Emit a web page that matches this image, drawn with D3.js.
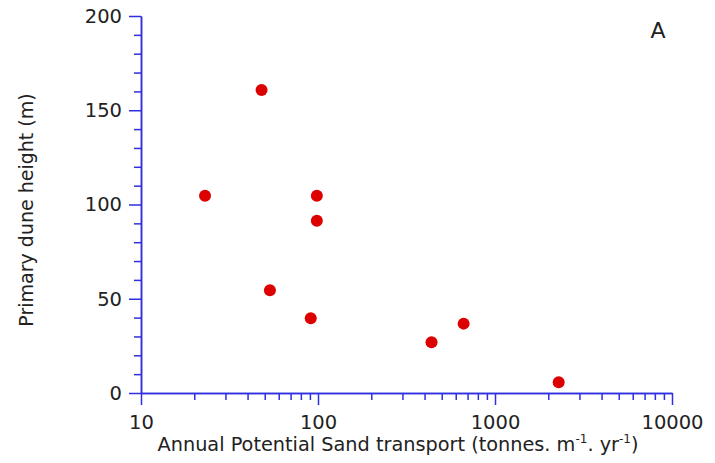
<!DOCTYPE html>
<html>
<head>
<meta charset="utf-8">
<script src="https://cdn.jsdelivr.net/npm/d3@7"></script>
<style>
  body { margin: 0; background: #fff; }
  text { font-family: "DejaVu Sans", sans-serif; fill: #222; }
</style>
</head>
<body>
<svg width="715" height="463"></svg>
<script>
// sand transport (tonnes m-1 yr-1) vs primary dune height (m)
var transport = [23, 48, 53.5, 91, 98.5, 98.5, 438, 665, 2290];
var height = [104.7, 160.7, 54.5, 39.6, 104.7, 91.4, 26.9, 36.8, 5.7];
var xTicks = [10, 100, 1000, 10000];
var yTicks = [0, 50, 100, 150, 200];

var axisCol = "#2f2fe0", dotCol = "#dd0000";

var svg = d3.select("svg");
var x = d3.scaleLog().domain([10, 10000]).range([141, 672]);
var y = d3.scaleLinear().domain([0, 200]).range([393, 16]);

// minor ticks
var xMinor = [];
for (var p = 10; p < 10000; p *= 10)
  for (var k = 2; k <= 9; k++) xMinor.push(p * k);
var yMinor = d3.range(0, 201, 10).filter(function(d) { return d % 50; });

var gx = svg.append("g").attr("transform", "translate(0,393)");
gx.call(d3.axisBottom(x).tickValues(xTicks).tickSize(12).tickFormat(d3.format("d")).tickSizeOuter(0));
gx.append("g").call(d3.axisBottom(x).tickValues(xMinor).tickSize(7).tickFormat("").tickSizeOuter(0));

var gy = svg.append("g").attr("transform", "translate(141,0)");
gy.call(d3.axisLeft(y).tickValues(yTicks).tickSize(12).tickSizeOuter(0));
gy.append("g").call(d3.axisLeft(y).tickValues(yMinor).tickSize(7).tickFormat("").tickSizeOuter(0));

svg.selectAll(".domain").attr("stroke", axisCol).attr("stroke-width", 1.5);
svg.selectAll(".tick line").attr("stroke", axisCol).attr("stroke-width", 1.5);
gx.selectAll(".tick text").attr("y", 22).attr("font-size", 19.5).attr("fill", "#222")
  .attr("font-family", "DejaVu Sans");
gy.selectAll(".tick text").attr("x", -19).attr("font-size", 19.5).attr("fill", "#222")
  .attr("font-family", "DejaVu Sans");

svg.selectAll("circle.pt").data(transport).enter().append("circle")
  .attr("class", "pt")
  .attr("cx", function(d) { return x(d); })
  .attr("cy", function(d, i) { return y(height[i]); })
  .attr("r", 6)
  .attr("fill", dotCol);

// x title with superscripts
var xt = svg.append("text").attr("x", 398).attr("y", 451)
  .attr("text-anchor", "middle").attr("font-size", 19.3);
xt.append("tspan").text("Annual Potential Sand transport (tonnes. m");
xt.append("tspan").attr("dy", -8).attr("font-size", 12).text("-1");
xt.append("tspan").attr("dy", 8).text(". yr");
xt.append("tspan").attr("dy", -8).attr("font-size", 12).text("-1");
xt.append("tspan").attr("dy", 8).text(")");

svg.append("text")
  .attr("transform", "translate(33,210) rotate(-90)")
  .attr("text-anchor", "middle").attr("font-size", 19)
  .text("Primary dune height (m)");

svg.append("text").attr("x", 658).attr("y", 38)
  .attr("text-anchor", "middle").attr("font-size", 22).text("A");
</script>
</body>
</html>
